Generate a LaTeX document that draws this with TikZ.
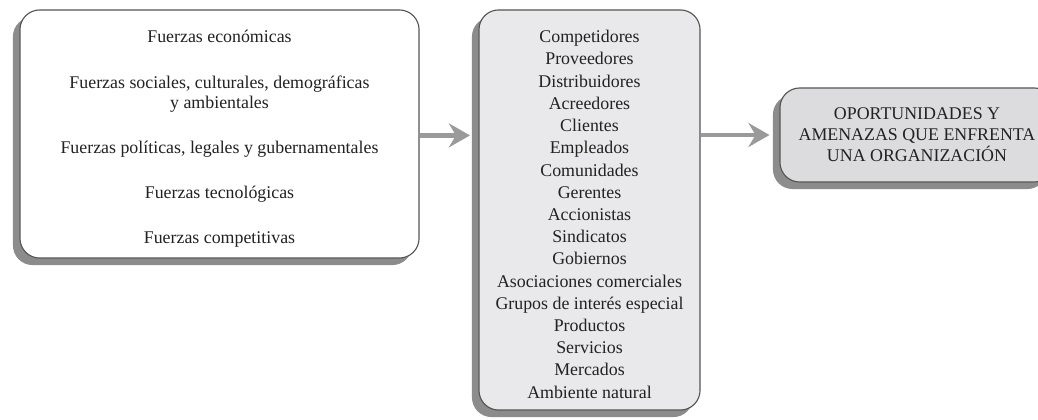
\documentclass[tikz,border=0pt]{standalone}
\usepackage{fontspec}
\setmainfont{Liberation Serif}
\usetikzlibrary{arrows.meta,positioning,shadows}
\definecolor{bordegris}{HTML}{555555}
\definecolor{sombragris}{HTML}{8C8C8C}
\definecolor{flechagris}{HTML}{9A9A9A}
\definecolor{fondoclaro}{HTML}{E9E9EB}
\definecolor{fondomedio}{HTML}{DCDCDE}
\definecolor{textooscuro}{HTML}{222222}

\begin{document}
\begin{tikzpicture}[x=0.025cm,y=-0.025cm,
  caja/.style={draw=bordegris, line width=0.8pt, rounded corners=14pt, align=center,
    text=textooscuro, inner sep=0pt,
    general shadow={fill=sombragris, shadow xshift=-5pt, shadow yshift=-5pt}},
  flecha/.style={draw=flechagris, line width=3.5pt,
    -{Stealth[length=15pt,width=17pt,inset=5pt]}}]
\useasboundingbox[fill=white] (0,0) rectangle (1038,420);
% fuerzas externas
\node [caja, fill=white, minimum width=9.975cm, minimum height=6.2cm,
  font={\fontsize{12.7}{14.2}\selectfont}] (fuerzas) at (219.5,134)
  {\rule{0pt}{16pt}Fuerzas económicas\\[18pt]
   Fuerzas sociales, culturales, demográficas\\
   y ambientales\\[18pt]
   Fuerzas políticas, legales y gubernamentales\\[18pt]
   Fuerzas tecnológicas\\[18pt]
   Fuerzas competitivas};
% grupos de interes
\node [caja, fill=fondoclaro, minimum width=5.525cm, minimum height=10cm,
  font={\fontsize{12.7}{15.8}\selectfont}] (grupos) at (589.5,210)
  {\rule{0pt}{15pt}Competidores\\ Proveedores\\ Distribuidores\\ Acreedores\\ Clientes\\
   Empleados\\ Comunidades\\ Gerentes\\ Accionistas\\ Sindicatos\\
   Gobiernos\\ Asociaciones comerciales\\ Grupos de interés especial\\
   Productos\\ Servicios\\ Mercados\\ Ambiente natural};
% resultado
\node [caja, fill=fondomedio, minimum width=6.85cm, minimum height=2.35cm,
  font={\fontsize{12.7}{15}\selectfont}] (oportunidades) at (917,135)
  {OPORTUNIDADES Y\\ AMENAZAS QUE ENFRENTA\\ UNA ORGANIZACIÓN};
\draw[flecha, shorten >=6pt] ([yshift=-1pt]fuerzas.east) -- ([yshift=-1pt]fuerzas.east -| grupos.west);
\draw[flecha, shorten >=7pt] (grupos.east |- oportunidades.west) -- (oportunidades.west);
\end{tikzpicture}
\end{document}
